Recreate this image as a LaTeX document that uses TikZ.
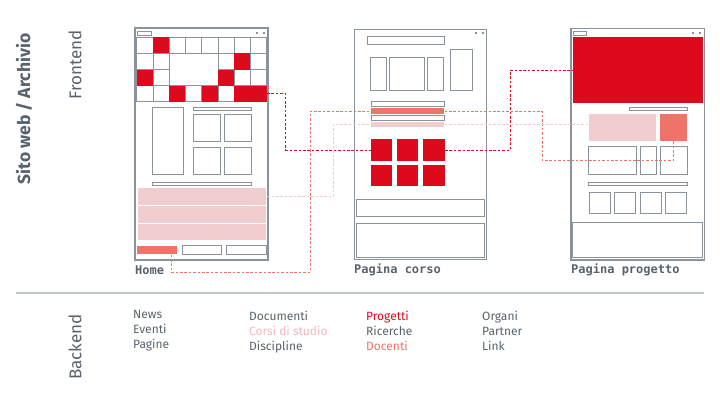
\documentclass[tikz,border=0pt]{standalone}
\usepackage{fontspec}
\setmainfont{Fira Sans}
\newfontfamily\monofont{DejaVu Sans Mono}
\usepackage{tikz}
\usetikzlibrary{positioning, fit, calc}
\definecolor{ared}{RGB}{220,10,28}
\definecolor{asalmon}{RGB}{240,115,106}
\definecolor{apink}{RGB}{242,205,207}
\definecolor{corsopink}{RGB}{244,182,190}
\definecolor{wiregray}{RGB}{138,146,154}
\definecolor{txtgray}{RGB}{88,98,108}
\definecolor{rulegray}{RGB}{190,196,200}

\begin{document}
\begin{tikzpicture}[x=1pt, y=-1pt,
  wire/.style={draw=wiregray, line width=0.9pt, fill=white, inner sep=0pt},
  frame/.style={draw=wiregray, line width=1.2pt, inner sep=0pt},
  redbox/.style={fill=ared, inner sep=0pt},
  salbox/.style={fill=asalmon, inner sep=0pt},
  pinkbox/.style={fill=apink, draw=white, line width=0.8pt, inner sep=0pt},
  dot/.style={fill=wiregray},
  link/.style={dash pattern=on 2.6pt off 1.8pt, line width=1pt},
  pagelabel/.style={font=\monofont\bfseries\fontsize{12}{14}\selectfont, text=txtgray, anchor=west, inner sep=0pt},
  side/.style={rotate=90, text=txtgray, inner sep=0pt},
  list/.style={align=left, anchor=north west, inner sep=0pt, text=txtgray,
               font=\fontsize{12}{15}\selectfont}]

  \useasboundingbox (0,0) rectangle (720,405);

  % side titles
  \node[side, font=\bfseries\fontsize{17.5}{20}\selectfont] (site) at (24,109) {Sito web / Archivio};
  \node[side, font=\fontsize{17}{20}\selectfont] (front) at (75,65) {Frontend};
  \node[side, font=\fontsize{17}{20}\selectfont] (back) at (75,347) {Backend};
  \draw[rulegray, line width=1.2pt] (16,293) -- (704,293);

  % ---- Home ----
  \node[frame, fit={(135,28) (268,260)}] (home) {};
  \draw[wire] (137.3,31.7) rectangle (151,35);
  \fill[dot] (255.7,32.3) rectangle ++(2,2);
  \fill[dot] (263,32.3) rectangle ++(2,2);
  \foreach \c in {0,...,7}
    \foreach \r in {0,...,3}
      \draw[wire] ({136.7+16.25*\c},{37.3+16.1*\r}) rectangle ++(16.25,16.1);
  \draw[wire] (169.2,53.4) rectangle (217.95,85.6);
  \foreach \c/\r in {1/0, 6/1, 0/2, 5/2, 2/3, 4/3}
    \fill[ared] ({136.7+16.25*\c},{37.3+16.1*\r}) rectangle ++(16.25,16.1);
  \node[redbox, fit={(234.2,85.6) (266.7,101.7)}] (hred) {};
  \draw[wire] (152.3,107.3) rectangle (183.7,174.3);
  \draw[wire] (193,107.3) rectangle (251.7,110.3);
  \draw[wire] (193,114.3) rectangle (220.3,141.3);
  \draw[wire] (224,114.3) rectangle (251.7,141.3);
  \draw[wire] (193,147) rectangle (220.3,174.3);
  \draw[wire] (224,147) rectangle (251.7,174.3);
  \draw[wire] (152.3,182.3) rectangle (251.7,185.3);
  \node[pinkbox, fit={(137.3,187.7) (266.7,205.3)}] (hp1) {};
  \node[pinkbox, fit={(137.3,205.3) (266.7,223)}] (hp2) {};
  \node[pinkbox, fit={(137.3,223) (266.7,240.7)}] (hp3) {};
  \node[salbox, fit={(137.3,245.7) (177,254.3)}] (hbtn) {};
  \draw[wire] (182,245.7) rectangle (221.7,254.3);
  \draw[wire] (226.7,245.7) rectangle (266.7,254.3);
  \node[pagelabel] (lhome) at (135,270) {Home};

  % ---- Pagina corso ----
  \node[frame, fit={(354.3,29.3) (486.7,259.3)}] (corso) {};
  \fill[dot] (474.7,32.3) rectangle ++(2,2);
  \fill[dot] (482.3,32.3) rectangle ++(2,2);
  \draw[wire] (367.7,36.7) rectangle (444,44);
  \draw[wire] (370.3,57.3) rectangle (386.3,90.3);
  \draw[wire] (389.7,57.3) rectangle (424.7,90.3);
  \draw[wire] (427.3,57.3) rectangle (443.7,90.3);
  \draw[wire] (450.3,49.3) rectangle (472.7,90.3);
  \node[wire, fit={(371,101.3) (444.3,106.7)}] (cbar1) {};
  \node[salbox, fit={(371,108.3) (444.3,114)}] (cbar2) {};
  \node[wire, fit={(371,115.3) (444.3,120.3)}] (cbar3) {};
  \node[pinkbox, draw=none, fit={(371,121.7) (444.3,126.7)}] (cbar4) {};
  \node[redbox, fit={(371,139.3) (392.3,160.7)}] (cs1) {};
  \node[redbox, fit={(397,139.3) (418.3,160.7)}] (cs2) {};
  \node[redbox, fit={(423.3,139.3) (444.7,160.7)}] (cs3) {};
  \node[redbox, fit={(371,165) (392.3,186)}] (cs4) {};
  \node[redbox, fit={(397,165) (418.3,186)}] (cs5) {};
  \node[redbox, fit={(423.3,165) (444.7,186)}] (cs6) {};
  \draw[wire] (356.7,199.3) rectangle (484.7,216.3);
  \draw[wire] (356.7,223) rectangle (484.7,257.7);
  \node[pagelabel] (lcorso) at (354,270) {Pagina corso};

  % ---- Pagina progetto ----
  \node[frame, fit={(571,28.3) (704.3,260)}] (progetto) {};
  \draw[wire] (573.3,31.7) rectangle (586.7,35.3);
  \fill[dot] (691.7,32.3) rectangle ++(2,2);
  \fill[dot] (699,32.3) rectangle ++(2,2);
  \node[redbox, fit={(572.7,37.3) (702.7,102.7)}] (banner) {};
  \draw[wire] (629,107) rectangle (687.7,110.7);
  \node[fill=apink, inner sep=0pt, fit={(588.7,114.3) (656,141)}] (ppink) {};
  \node[salbox, fit={(660.3,114.3) (687.3,141)}] (psq) {};
  \draw[wire] (588.7,146) rectangle (636.3,174);
  \draw[wire] (640.3,146) rectangle (656.7,174);
  \draw[wire] (660,146) rectangle (687.3,174);
  \draw[wire] (588.7,182.3) rectangle (687.7,185.3);
  \foreach \x in {589,614.3,640,665.3}
    \draw[wire] (\x,192) rectangle ++(21.5,21.3);
  \draw[wire] (572.7,222.3) rectangle (702.7,257.7);
  \node[pagelabel] (lprog) at (571,270) {Pagina progetto};

  % ---- links ----
  \draw[link, ared] (hred.east) -- ++(19,0) |- (cs1.west);
  \draw[link, ared] (cs3.east) -- ++(65.3,0) |- (banner.west);
  \draw[link, asalmon] ([xshift=14pt]hbtn.south) -- ++(0,17.5) -- ++(139.3,0) |- (cbar2.west);
  \draw[link, asalmon] (cbar2.east) -- ++(97.7,0) |- ([yshift=-19pt]psq.south) -- (psq.south);
  \draw[link, apink] (hp1.east) -- ++(66.3,0) |- (cbar4.west);
  \draw[link, apink] (cbar4.east) -- (cbar4.east -| ppink.west);

  % ---- backend ----
  \node[list] (bcol1) at (133,310.5) {News\\Eventi\\Pagine};
  \node[list] (bcol2) at (249,310.5) {Documenti\\\textcolor{corsopink}{Corsi di studio}\\Discipline};
  \node[list] (bcol3) at (366,310.5) {\textcolor{ared}{Progetti}\\Ricerche\\\textcolor{asalmon}{Docenti}};
  \node[list] (bcol4) at (482,310.5) {Organi\\Partner\\Link};
\end{tikzpicture}
\end{document}
